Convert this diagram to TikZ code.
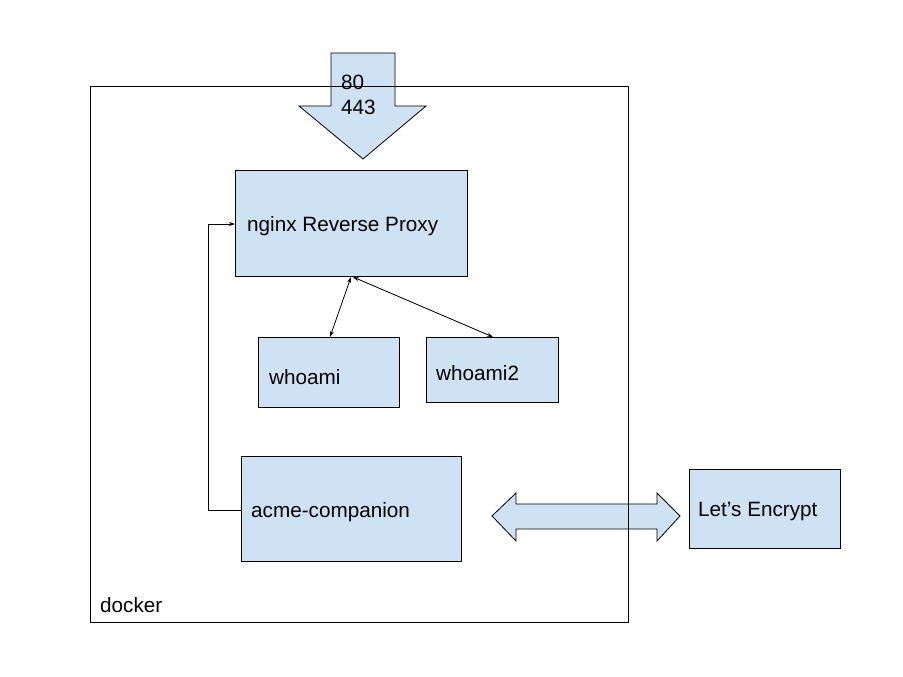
\documentclass[tikz,border=0pt]{standalone}
\usepackage{fontspec}
\setmainfont{Liberation Sans}
\usetikzlibrary{arrows.meta}
\definecolor{boxblue}{HTML}{CFE2F3}
\begin{document}
\begin{tikzpicture}[x=1pt,y=-1pt,
  box/.style={draw=black,fill=boxblue,line width=0.8pt},
  lbl/.style={anchor=west,inner sep=0pt,font=\fontsize{20.7}{24.8}\selectfont},
  link/.style={line width=0.8pt,{Stealth[length=6pt,width=4pt]}-{Stealth[length=6pt,width=4pt]}},
  oneway/.style={line width=0.8pt,-{Stealth[length=6pt,width=4pt]}}]
\useasboundingbox (0,0) rectangle (903,677);
% incoming port arrow
\draw[box] (331,53) -- (395,53) -- (395,106) -- (426,106) -- (363,159) -- (299,106) -- (331,106) -- cycle;
\node[lbl,anchor=base west] (ports) at (341,90) {80};
\node[lbl,anchor=base west] (ports2) at (341,114) {443};
% boxes
\node[box,minimum width=232pt,minimum height=106pt,inner sep=0pt] (nginx) at (351,223) {};
\node[lbl] (nginxl) at (247,226) {nginx Reverse Proxy};
\node[box,minimum width=141pt,minimum height=70pt,inner sep=0pt] (who1) at (328.5,372) {};
\node[lbl] at (269,377) {whoami};
\node[box,minimum width=132pt,minimum height=65pt,inner sep=0pt] (who2) at (492,369.5) {};
\node[lbl] at (436,373) {whoami2};
\node[box,minimum width=220pt,minimum height=105pt,inner sep=0pt] (acme) at (351,508.5) {};
\node[lbl] at (251,512) {acme-companion};
\node[box,minimum width=151pt,minimum height=79pt,inner sep=0pt] (le) at (764.5,508.5) {};
\node[lbl] at (698,512) {Let’s Encrypt};
% double arrow
\draw[box] (492,516) -- (516,493) -- (516,504) -- (657,504) -- (657,493) -- (680,516) -- (657,541) -- (657,529) -- (516,529) -- (516,541) -- cycle;
% connectors
\coordinate (n1) at (351,277);
\coordinate (n2) at (353,277);
\coordinate (w1) at (330,337);
\coordinate (w2) at (493,337);
\draw[link] (n1) -- (w1);
\draw[link] (n2) -- (w2);
\coordinate (ael) at (241,510);
\coordinate (nl) at (235,224);
\draw[oneway] (ael) -- (208,510) -- (208,224) -- (nl);
% docker frame on top
\draw[line width=0.8pt] (90,86) rectangle (628,622);
\node[lbl] (docker) at (100,605) {docker};
\end{tikzpicture}
\end{document}
